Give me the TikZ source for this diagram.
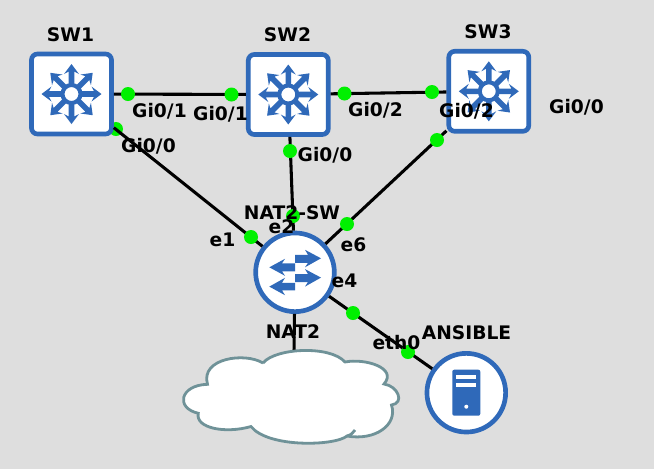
\documentclass[tikz,border=0pt]{standalone}
\usepackage{fontspec}
\setmainfont{DejaVu Sans}
\usetikzlibrary{positioning}
\definecolor{canvas}{HTML}{DEDEDE}
\definecolor{iconblue}{HTML}{2F69B9}
\definecolor{cloudline}{HTML}{6F9298}
\definecolor{portgreen}{HTML}{00F000}
\tikzset{
x=0.75pt, y=-0.75pt, % one unit is one pixel of the reference
link/.style={line width=2.3pt, black}, % the cables
port/.style={circle, fill=portgreen, inner sep=0pt, minimum size=10.5pt}, % green dots
txt/.style={font=\fontsize{14}{16}\selectfont\bfseries, inner sep=0pt}, % all labels
switchbox/.style={draw=iconblue, fill=white, line width=3.5pt, rounded corners=4.5pt, minimum size=60pt},
roundbox/.style={draw=iconblue, fill=white, line width=3.5pt, circle, minimum size=59pt},
pics/mlswitch/.style={code={
    \foreach \a in {0,45,...,315}
        \fill[iconblue, rotate=\a] (9,-2.8) -- (22.5,-2.8) -- (20,-7.5) -- (30,0) -- (20,7.5) -- (22.5,2.8) -- (9,2.8) -- cycle;
    \draw[iconblue, line width=3pt] (0,0) circle (9);
}},
pics/natarrows/.style={code={
    \fill[iconblue] (0,-17.5) -- (13,-17.5) -- (10,-22.5) -- (26,-14) -- (10,-5) -- (13,-9.5) -- (0,-9.5) -- cycle;
    \fill[iconblue] (0,1.8) -- (13,1.8) -- (10,-3.2) -- (26,5.3) -- (10,14.3) -- (13,9.8) -- (0,9.8) -- cycle;
    \fill[iconblue] (0,-9) -- (-13,-9) -- (-10,-13.5) -- (-25.7,-5) -- (-10,3.5) -- (-13,-1) -- (0,-1) -- cycle;
    \fill[iconblue] (0,10.5) -- (-13,10.5) -- (-10,5.5) -- (-25.7,14.3) -- (-10,22.9) -- (-13,18) -- (0,18) -- cycle;
}},
pics/server/.style={code={
    \fill[iconblue, rounded corners=1.5pt] (-14,-23) rectangle (14,23);
    \fill[white] (-10,-18) rectangle (10,-13.5);
    \fill[white] (-10,-10) rectangle (10,-5.5);
    \fill[white] (0,14) circle (2);
}},
}
\begin{document}
\begin{tikzpicture}
    \fill[canvas] (0,0) rectangle (654,469);
    \useasboundingbox (0,0) rectangle (654,469);

    % this port lies behind the box of SW1
    \node[port] (p0) at (116,129) {};

    % devices first, the cables stop at their borders
    \node[switchbox] (sw1) at (71.5,94) {};
    \node[switchbox] (sw2) at (288.3,94.5) {};
    \node[switchbox] (sw3) at (488.8,91.3) {};
    \node[roundbox] (natsw) at (295,272.3) {};
    \node[roundbox] (ansible) at (466.3,392.7) {};
    \coordinate (cloudtop) at (294,352);

    \draw[link] (sw1) -- (sw2);
    \draw[link] (sw2) -- (sw3);
    \draw[link] (sw1) -- (natsw);
    \draw[link] (sw2) -- (natsw);
    \draw[link] (sw3) -- (natsw);
    \draw[link] (natsw) -- (ansible);
    \draw[link] (natsw) -- (cloudtop);

    \pic at (sw1) {mlswitch};
    \pic at (sw2) {mlswitch};
    \pic at (sw3) {mlswitch};
    \pic at (natsw) {natarrows};
    \pic at (ansible) {server};

    % cloud
    \draw[cloudline, fill=white, line width=2.1pt] (263,363)
        .. controls (275,348) and (330,345) .. (345,362)
        .. controls (365,358) and (398,368) .. (384,384)
        .. controls (398,386) and (405,403) .. (391.5,405)
        .. controls (398,425) and (375,441) .. (347,436)
        .. controls (335,446) and (268,448) .. (251,426.5)
        .. controls (225,434) and (195,428) .. (198.3,413.3)
        .. controls (175,408) and (180,385) .. (207.5,384.3)
        .. controls (200,358) and (245,352) .. (263,363);
    \draw[cloudline, line width=2.1pt] (347,436) .. controls (351,435) and (353,433) .. (355,430);

    % ports
    \node[port] (p1) at (128,94) {};
    \node[port] (p2) at (231.5,94.5) {};
    \node[port] (p3) at (344.5,93.5) {};
    \node[port] (p4) at (432,92) {};
    \node[port] (p5) at (290,151) {};
    \node[port] (p6) at (437,140) {};
    \node[port] (p7) at (293,216) {};
    \node[port] (p8) at (251,237) {};
    \node[port] (p9) at (347,224) {};
    \node[port] (p10) at (353,313) {};
    \node[port] (p11) at (408,352) {};

    % labels
    \node[txt] (t1) at (70.5,35) {SW1};
    \node[txt] (t2) at (287.5,35) {SW2};
    \node[txt] (t3) at (488,32) {SW3};
    \node[txt] (t4) at (159.5,111) {Gi0/1};
    \node[txt] (t5) at (220.5,114) {Gi0/1};
    \node[txt] (t6) at (148.5,146) {Gi0/0};
    \node[txt] (t7) at (375.5,110) {Gi0/2};
    \node[txt] (t8) at (466.5,111) {Gi0/2};
    \node[txt] (t9) at (576.5,107) {Gi0/0};
    \node[txt] (t10) at (325,155) {Gi0/0};
    \node[txt] (t11) at (292,213) {NAT2-SW};
    \node[txt] (t12) at (281.5,227) {e2};
    \node[txt] (t13) at (222.5,240) {e1};
    \node[txt] (t14) at (353.5,245) {e6};
    \node[txt] (t15) at (344.5,281) {e4};
    \node[txt] (t16) at (293,332) {NAT2};
    \node[txt] (t17) at (396.5,343) {eth0};
    \node[txt] (t18) at (466.5,333) {ANSIBLE};
\end{tikzpicture}
\end{document}
